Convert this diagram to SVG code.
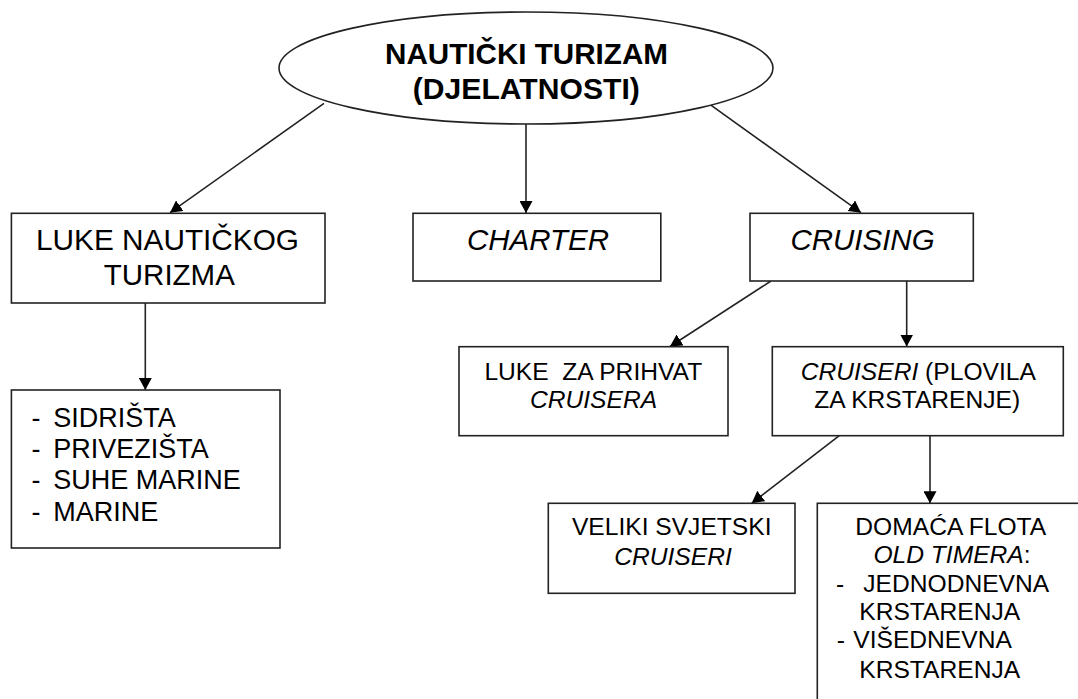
<svg xmlns="http://www.w3.org/2000/svg" width="1078" height="699" viewBox="0 0 1078 699">
<defs>
<style>
.bx{fill:#fff;stroke:#222;stroke-width:1.6}
.ln{fill:none;stroke:#222;stroke-width:1.6;marker-end:url(#ah)}
text{font-family:"Liberation Sans",Arial,sans-serif;fill:#000}
.t{font-size:29.5px;text-anchor:middle}
.b{font-weight:bold}
.m{font-size:24.6px;text-anchor:middle}
.ms{font-size:24.6px}
.l{font-size:27px}
.i{font-style:italic}
</style>
<marker id="ah" markerUnits="userSpaceOnUse" markerWidth="12" markerHeight="13" refX="12" refY="6.5" orient="auto" viewBox="0 0 12 13">
<path d="M0,0 L12,6.5 L0,13 Z" fill="#000"/>
</marker>
</defs>
<rect width="1078" height="699" fill="#fff"/>

<g id="connectors">
<line class="ln" x1="324" y1="103.3" x2="170" y2="212.7"/>
<line class="ln" x1="526" y1="124" x2="526" y2="213"/>
<line class="ln" x1="706" y1="101.7" x2="861" y2="212.7"/>
<line class="ln" x1="145.3" y1="303" x2="145.3" y2="390"/>
<line class="ln" x1="771" y1="281" x2="670" y2="346.5"/>
<line class="ln" x1="906.7" y1="281" x2="906.7" y2="346.5"/>
<line class="ln" x1="839.3" y1="435.7" x2="751.7" y2="503.3"/>
<line class="ln" x1="930" y1="435.7" x2="930" y2="503.3"/>
</g>

<g id="root">
<ellipse class="bx" cx="526" cy="68" rx="247" ry="56"/>
<text class="t b" x="526.5" y="63.5" textLength="283" lengthAdjust="spacingAndGlyphs">NAUTIČKI TURIZAM</text>
<text class="t b" x="526.3" y="98.5" textLength="227" lengthAdjust="spacingAndGlyphs">(DJELATNOSTI)</text>
</g>

<g id="luke-nautickog">
<rect class="bx" x="11.4" y="213.3" width="313.6" height="89.7"/>
<text class="t" x="167.5" y="250" textLength="263" lengthAdjust="spacingAndGlyphs">LUKE NAUTIČKOG</text>
<text class="t" x="169.3" y="285">TURIZMA</text>
</g>

<g id="charter">
<rect class="bx" x="413" y="213.3" width="247.8" height="67.7"/>
<text class="t i" x="538" y="250">CHARTER</text>
</g>

<g id="cruising">
<rect class="bx" x="750" y="213.3" width="223.3" height="67.7"/>
<text class="t i" x="862.5" y="250">CRUISING</text>
</g>

<g id="vrste">
<rect class="bx" x="11.4" y="390" width="268.6" height="158"/>
<text class="l" x="31.5" y="426.7">-</text>
<text class="l" x="53.3" y="426.7">SIDRIŠTA</text>
<text class="l" x="31.5" y="458">-</text>
<text class="l" x="53.3" y="458">PRIVEZIŠTA</text>
<text class="l" x="31.5" y="489.3">-</text>
<text class="l" x="53.3" y="489.3">SUHE MARINE</text>
<text class="l" x="31.5" y="520.6">-</text>
<text class="l" x="53.3" y="520.6">MARINE</text>
</g>

<g id="luke-prihvat">
<rect class="bx" x="459" y="346.7" width="269" height="89"/>
<text class="m" x="593.3" y="380" xml:space="preserve">LUKE  ZA PRIHVAT</text>
<text class="m i" x="593.5" y="407.7">CRUISERA</text>
</g>

<g id="cruiseri">
<rect class="bx" x="772.3" y="346.7" width="291" height="89"/>
<text class="m" x="918.3" y="379.5"><tspan class="i">CRUISERI</tspan> (PLOVILA</text>
<text class="m" x="917.2" y="407.7">ZA KRSTARENJE)</text>
</g>

<g id="veliki">
<rect class="bx" x="548.3" y="503.3" width="246.7" height="90"/>
<text class="m" x="671.7" y="535">VELIKI SVJETSKI</text>
<text class="m i" x="673" y="565">CRUISERI</text>
</g>

<g id="domaca">
<rect class="bx" x="817.3" y="503.3" width="300" height="250"/>
<text class="m" x="950.8" y="535">DOMAĆA FLOTA</text>
<text class="m" x="952" y="563.3"><tspan class="i">OLD TIMERA</tspan>:</text>
<text class="ms" x="836" y="591.7">-</text>
<text class="ms" x="863.3" y="591.7">JEDNODNEVNA</text>
<text class="ms" x="859.3" y="620">KRSTARENJA</text>
<text class="ms" x="836.7" y="648.3">-</text>
<text class="ms" x="853.3" y="648.3">VIŠEDNEVNA</text>
<text class="ms" x="859.3" y="678.3">KRSTARENJA</text>
</g>
</svg>
